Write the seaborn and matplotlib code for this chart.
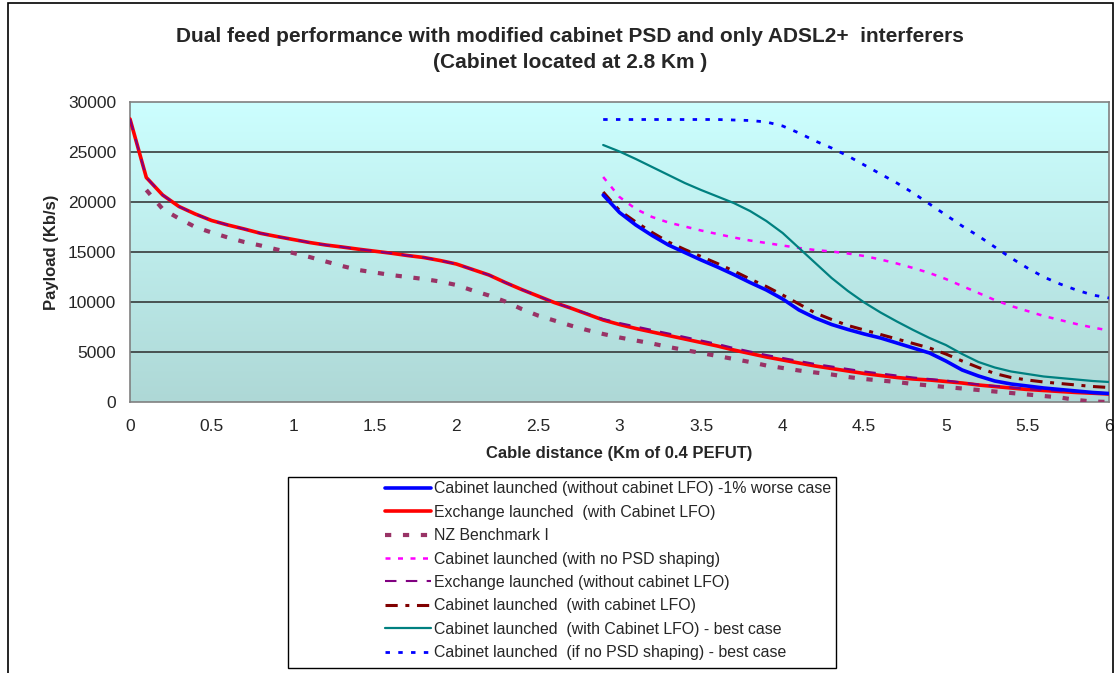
import numpy as np
import matplotlib
matplotlib.use("Agg")
import matplotlib.pyplot as plt
from matplotlib.colors import LinearSegmentedColormap
from matplotlib.patches import Rectangle
import seaborn as sns

sns.set_style("white")
plt.rcParams['font.family'] = ['Liberation Sans', 'DejaVu Sans']

# distancias (km)
km_exchange = [round(0.1 * i, 1) for i in range(61)]
km_bench = [round(0.1 * i, 1) for i in range(1, 61)]
km_cabinet = [round(2.9 + 0.1 * i, 1) for i in range(32)]

# Exchange launched (with Cabinet LFO)
exch_lfo = [28300, 22450, 20700, 19550, 18800, 18150, 17700, 17300, 16870, 16550,
            16250, 15950, 15700, 15500, 15280, 15080, 14880, 14650, 14450, 14150,
            13800, 13250, 12700, 11950, 11250, 10600, 9950, 9400, 8800, 8200,
            7750, 7350, 7000, 6650, 6300, 5950, 5600, 5200, 4850, 4500,
            4200, 3900, 3600, 3350, 3100, 2850, 2650, 2450, 2300, 2200,
            2050, 1900, 1700, 1550, 1400, 1250, 1150, 1050, 950, 880, 800]

# Exchange launched (without cabinet LFO)
exch_no_lfo = [28300, 22450, 20700, 19550, 18800, 18150, 17700, 17300, 16870, 16550,
               16250, 15950, 15700, 15500, 15280, 15080, 14880, 14650, 14450, 14150,
               13800, 13250, 12700, 11950, 11250, 10600, 9950, 9400, 8850, 8300,
               7900, 7550, 7200, 6850, 6500, 6150, 5800, 5400, 5050, 4700,
               4400, 4100, 3800, 3550, 3300, 3050, 2850, 2650, 2450, 2300,
               2150, 1950, 1750, 1600, 1450, 1300, 1200, 1100, 1000, 900, 820]

# NZ Benchmark I
nz_bench = [21200, 19300, 18350, 17500, 16950, 16450, 16000, 15650, 15250, 14900,
            14500, 14050, 13600, 13200, 12950, 12700, 12500, 12300, 12050, 11700,
            11150, 10650, 10050, 9300, 8650, 8150, 7650, 7200, 6800, 6450,
            6150, 5850, 5500, 5200, 4900, 4600, 4300, 4000, 3650, 3400,
            3150, 2950, 2750, 2500, 2300, 2150, 2000, 1800, 1650, 1500,
            1350, 1200, 1050, 900, 750, 600, 450, 200, 50, 0]

# Cabinet launched (without cabinet LFO) -1% worse case
cab_worse = [20700, 18950, 17700, 16650, 15700, 14950, 14200, 13500, 12750, 11950,
             11200, 10300, 9200, 8400, 7750, 7250, 6800, 6400, 5900, 5400,
             4900, 4100, 3200, 2600, 2100, 1800, 1600, 1400, 1250, 1100, 950, 850]

# Cabinet launched (with cabinet LFO)
cab_lfo = [21000, 19150, 18000, 16950, 16000, 15250, 14550, 13850, 13100, 12300,
           11550, 10700, 9800, 8900, 8250, 7650, 7200, 6750, 6300, 5850,
           5400, 4800, 4100, 3450, 2850, 2450, 2200, 2000, 1850, 1700, 1550, 1450]

# Cabinet launched (with Cabinet LFO) - best case
cab_lfo_best = [25700, 25050, 24300, 23500, 22700, 21900, 21200, 20550, 19900, 19100,
                18100, 16900, 15400, 13900, 12400, 11100, 9950, 8950, 8050, 7200,
                6400, 5700, 4800, 4000, 3450, 3050, 2800, 2550, 2400, 2250, 2100, 2000]

# Cabinet launched (with no PSD shaping)
cab_no_psd = [22500, 20500, 19300, 18500, 17950, 17550, 17150, 16800, 16450, 16150,
              15900, 15650, 15400, 15200, 15050, 14850, 14600, 14250, 13850, 13400,
              12900, 12300, 11600, 10900, 10200, 9600, 9100, 8600, 8200, 7800, 7450, 7150]

# Cabinet launched (if no PSD shaping) - best case
cab_no_psd_best = [28250, 28250, 28250, 28250, 28250, 28250, 28250, 28250, 28200, 28150,
                   28000, 27600, 26900, 26100, 25400, 24600, 23700, 22800, 21900, 20900,
                   19800, 18700, 17600, 16600, 15500, 14400, 13400, 12500, 11800, 11200,
                   10700, 10400]

W, H = 1115, 673
fig = plt.figure(figsize=(W / 100, H / 100), dpi=100)
ax = fig.add_axes([130 / W, 1 - 402 / H, 979 / W, 300 / H])

# fundo em degrade
cmap = LinearSegmentedColormap.from_list("bg", ["#AED8D6", "#CCFFFF"])
grad = np.linspace(0, 1, 256).reshape(-1, 1)
ax.imshow(grad, extent=[0, 6, 0, 30000], origin="lower", aspect="auto",
          cmap=cmap, zorder=0)

for yv in [5000, 10000, 15000, 20000, 25000]:
    ax.axhline(yv, color="#2b2b2b", lw=1.1, zorder=1)

sns.lineplot(x=km_cabinet, y=cab_worse, ax=ax, color="#0000FF", lw=2.6,
             label="Cabinet launched (without cabinet LFO) -1% worse case", zorder=5)
sns.lineplot(x=km_exchange, y=exch_lfo, ax=ax, color="#FF0000", lw=2.6,
             label="Exchange launched  (with Cabinet LFO)", zorder=4)
sns.lineplot(x=km_bench, y=nz_bench, ax=ax, color="#993366", lw=3,
             linestyle=(0, (1.5, 2.8)), label="NZ Benchmark I", zorder=3)
sns.lineplot(x=km_cabinet, y=cab_no_psd, ax=ax, color="#FF00FF", lw=1.8,
             linestyle=(0, (2, 3)), label="Cabinet launched (with no PSD shaping)", zorder=3)
sns.lineplot(x=km_exchange, y=exch_no_lfo, ax=ax, color="#800080", lw=1.5,
             linestyle=(0, (5.5, 4.5)), label="Exchange launched (without cabinet LFO)", zorder=4.5)
sns.lineplot(x=km_cabinet, y=cab_lfo, ax=ax, color="#800000", lw=2.2,
             linestyle=(0, (4, 2.5, 1.3, 2.5)), label="Cabinet launched  (with cabinet LFO)", zorder=4)
sns.lineplot(x=km_cabinet, y=cab_lfo_best, ax=ax, color="#008080", lw=1.6,
             label="Cabinet launched  (with Cabinet LFO) - best case", zorder=3)
sns.lineplot(x=km_cabinet, y=cab_no_psd_best, ax=ax, color="#0000FF", lw=2,
             linestyle=(0, (1.6, 3)), label="Cabinet launched  (if no PSD shaping) - best case", zorder=3)

ax.set_xlim(0, 6)
ax.set_ylim(0, 30000)
ax.set_xticks(np.arange(0, 6.01, 0.5))
ax.set_xticklabels(["0", "0.5", "1", "1.5", "2", "2.5", "3", "3.5", "4", "4.5", "5", "5.5", "6"])
ax.set_yticks(range(0, 30001, 5000))
ax.tick_params(axis="both", direction="out", length=5, width=1, color="#808080",
               labelsize=12.5, pad=5)
ax.tick_params(axis="x", pad=7)
for sp in ax.spines.values():
    sp.set_color("#808080")
    sp.set_linewidth(1.2)

ax.set_xlabel("Cable distance (Km of 0.4 PEFUT)", fontsize=12, fontweight="bold", labelpad=9)
ax.set_ylabel("Payload (Kb/s)", fontsize=12, fontweight="bold", labelpad=6)

fig.text(570 / W, 1 - 37 / H, "Dual feed performance with modified cabinet PSD and only ADSL2+  interferers",
         ha="center", va="center", fontsize=15, fontweight="bold")
fig.text(570 / W, 1 - 62 / H, "(Cabinet located at 2.8 Km )",
         ha="center", va="center", fontsize=15, fontweight="bold")

# legenda
handles, labels = ax.get_legend_handles_labels()
ax.legend_.remove()
fig.legend(handles, labels, loc="upper left", bbox_to_anchor=(379 / W, 1 - 475 / H),
           frameon=False, fontsize=11.4, handlelength=2.9, handletextpad=0.2,
           labelspacing=0.53, borderaxespad=0)
fig.patches.append(Rectangle((288 / W, 1 - 668 / H), 548 / W, 191 / H,
                             transform=fig.transFigure, fill=False,
                             edgecolor="black", lw=1))
# moldura externa
fig.patches.append(Rectangle((8 / W, -0.05), 1105 / W, 1.05 - 3 / H,
                             transform=fig.transFigure, fill=False,
                             edgecolor="black", lw=1.2))

fig.savefig("out.png", dpi=100)
